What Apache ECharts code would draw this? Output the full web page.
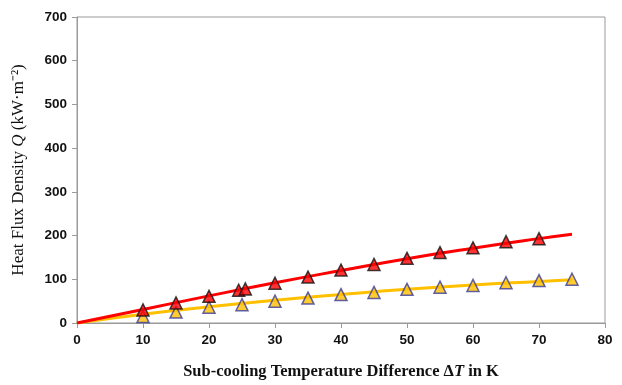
<!DOCTYPE html>
<html><head><meta charset="utf-8">
<script src="https://cdn.jsdelivr.net/npm/echarts@6/dist/echarts.min.js"></script>
<style>html,body{margin:0;padding:0;background:#fff}#c{width:622px;height:385px}</style>
</head><body><div id="c"></div>
<script>
// Measured points
const redPoints = [[10,30],[15,46],[20,61],[24.5,75],[25.5,78],[30,91],[35,105],[40,121],[45,134],[50,148],[55,161],[60,172],[65,186],[70,193]];
const yellowPoints = [[10,15],[15,25],[20,36],[25,42],[30,50],[35,57],[40,65],[45,70],[50,77],[55,82],[60,86],[65,92],[70,97],[75,100]];
// Fitted curves
const redFit = [[0,0],[10,31],[20,62],[30,92],[40,120],[50,147],[60,171],[70,193],[75,203]];
const yellowFit = [[0,0],[10,20],[20,37],[30,52],[40,65],[50,77],[60,87],[70,95],[75,99]];
const xTicks = [0,10,20,30,40,50,60,70,80];
const yTicks = [0,100,200,300,400,500,600,700];

const chart = echarts.init(document.getElementById('c'));
const axisCol = '#9a9a9a';
chart.setOption({
  animation:false,
  grid:{left:77,right:17,top:17,bottom:59,show:true,borderColor:axisCol,borderWidth:1},
  xAxis:{type:'value',min:xTicks[0],max:xTicks[xTicks.length-1],interval:10,
    axisLine:{lineStyle:{color:axisCol,width:1}},
    axisTick:{show:true,length:5,lineStyle:{color:axisCol}},
    splitLine:{show:false},
    axisLabel:{color:'#111',fontFamily:'Liberation Sans',fontWeight:'bold',fontSize:13.5,margin:10},
    name:'{b|Sub-cooling Temperature Difference Δ}{i|T}{b| in K}',
    nameLocation:'middle',nameGap:40,
    nameTextStyle:{rich:{b:{fontFamily:'Liberation Serif',fontWeight:'bold',fontSize:16.5,color:'#111'},i:{fontFamily:'Liberation Serif',fontWeight:'bold',fontStyle:'italic',fontSize:16.5,color:'#111'}}}
  },
  yAxis:{type:'value',min:yTicks[0],max:yTicks[yTicks.length-1],interval:100,
    axisLine:{show:true,lineStyle:{color:axisCol,width:1}},
    axisTick:{show:true,length:5,lineStyle:{color:axisCol}},
    splitLine:{show:false},
    axisLabel:{color:'#111',fontFamily:'Liberation Sans',fontWeight:'bold',fontSize:13.5,margin:10},
    name:'{n|Heat Flux Density }{i|Q}{n| (kW·m⁻²)}',
    nameLocation:'middle',nameGap:50,nameRotate:90,
    nameTextStyle:{rich:{n:{fontFamily:'Liberation Serif',fontSize:17,color:'#111'},i:{fontFamily:'Liberation Serif',fontStyle:'italic',fontSize:17,color:'#111'}}}
  },
  series:[
    {type:'line',data:yellowFit,smooth:true,symbol:'none',lineStyle:{color:'#ffc000',width:3},z:2},
    {type:'line',data:redFit,smooth:true,symbol:'none',lineStyle:{color:'#ff0000',width:3},z:2},
    {type:'scatter',data:yellowPoints,symbol:'triangle',symbolSize:12,itemStyle:{color:'#ffc000',borderColor:'#3a3a9a',borderWidth:1.5},z:3},
    {type:'scatter',data:redPoints,symbol:'triangle',symbolSize:12,itemStyle:{color:'#ff0000',borderColor:'#111',borderWidth:1.5},z:3}
  ]
});
</script></body></html>
